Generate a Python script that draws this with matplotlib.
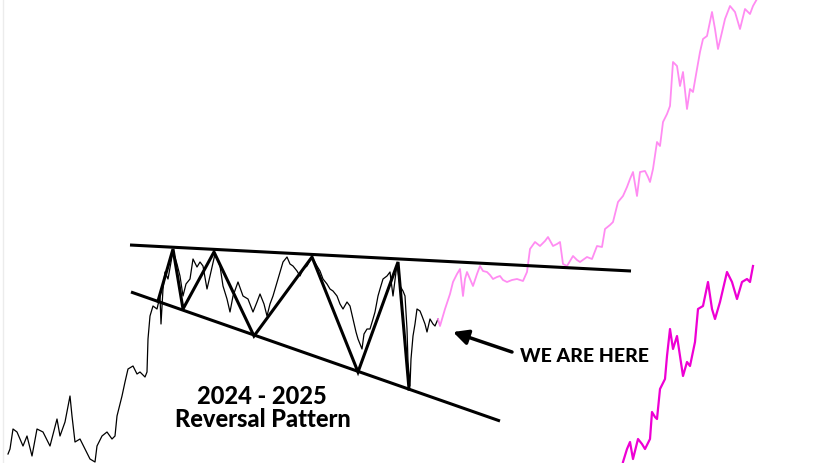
import matplotlib
matplotlib.use("Agg")
import matplotlib.pyplot as plt

# price path (x = time step, y = level)
black_x = [8, 10, 13, 17, 23, 27, 32, 37, 43, 50, 57, 60, 65, 70, 72, 75, 80, 85, 90, 95,
           97, 102, 107, 112, 115, 117, 122, 125, 128, 133, 137, 140, 145, 147, 148, 150, 153, 157, 160, 161,
           163, 165, 168, 173, 177, 180, 183, 186, 190, 193, 197, 200, 203, 207, 210, 215, 218, 220, 223, 227,
           230, 233, 238, 243, 248, 253, 257, 260, 264, 267, 270, 273, 278, 283, 287, 290, 293, 297, 300, 303,
           307, 312, 317, 320, 323, 327, 330, 333, 337, 340, 343, 347, 350, 353, 356, 358, 362, 364, 367, 370,
           373, 375, 378, 380, 383, 387, 390, 393, 397, 400, 403, 405, 407, 408, 410, 411, 413, 415, 417, 420,
           422, 425, 427, 430, 433, 435, 438]
black_y = [9, 14, 34, 31, 17, 27, 7, 34, 31, 17, 44, 27, 41, 67, 47, 21, 24, 14, 4, 1,
           17, 27, 31, 24, 27, 47, 67, 81, 94, 97, 89, 91, 86, 91, 124, 147, 157, 154, 167, 139,
           174, 191, 184, 212, 199, 187, 167, 179, 184, 204, 196, 201, 197, 174, 187, 209, 202, 197, 177, 164,
           151, 167, 181, 167, 164, 151, 161, 169, 159, 147, 159, 167, 184, 201, 206, 199, 197, 192, 187, 194,
           197, 206, 197, 192, 184, 179, 174, 172, 167, 159, 154, 161, 157, 144, 131, 124, 114, 129, 134, 134,
           144, 151, 167, 174, 184, 187, 191, 167, 199, 177, 172, 167, 134, 101, 77, 104, 127, 139, 154, 152,
           147, 139, 131, 144, 139, 137, 144]

pink_x = [438, 440, 445, 450, 453, 457, 460, 463, 465, 467, 470, 473, 477, 480, 483, 487, 490, 493, 497, 500,
          503, 507, 512, 517, 523, 527, 530, 535, 540, 545, 548, 553, 557, 560, 563, 567, 570, 573, 577, 580,
          587, 592, 597, 602, 605, 610, 613, 618, 623, 627, 630, 633, 637, 640, 645, 648, 650, 653, 657, 660,
          663, 667, 670, 673, 677, 680, 683, 687, 690, 693, 697, 700, 703, 707, 712, 715, 718, 722, 725, 730,
          735, 740, 745, 750, 753, 757]
pink_y = [144, 137, 154, 169, 181, 189, 194, 167, 184, 191, 184, 177, 189, 197, 192, 191, 188, 184, 186, 187,
          183, 181, 183, 184, 182, 191, 214, 221, 217, 222, 226, 217, 219, 221, 199, 197, 202, 207, 203, 201,
          206, 204, 217, 216, 234, 238, 241, 261, 267, 276, 284, 291, 267, 291, 292, 286, 281, 294, 321, 317,
          341, 349, 357, 401, 397, 377, 391, 354, 374, 371, 394, 411, 424, 427, 451, 434, 414, 431, 444, 457,
          451, 434, 454, 449, 457, 464]

magenta_x = [623, 627, 630, 633, 638, 642, 645, 650, 652, 655, 657, 660, 665, 667, 670, 673, 677, 680, 683, 687,
             690, 695, 698, 703, 708, 712, 715, 720, 727, 732, 737, 742, 747, 750, 753]
magenta_y = [1, 14, 21, 4, 24, 19, 14, 24, 51, 46, 44, 74, 84, 107, 134, 114, 127, 107, 87, 101,
             97, 121, 154, 157, 181, 154, 144, 161, 191, 181, 164, 181, 184, 181, 197]

# pattern lines
upper_x = [130, 631]
upper_y = [218, 192]
lower_x = [131, 500]
lower_y = [171, 42]
zig_x = [158, 173, 183, 214, 254, 312, 358, 398, 409]
zig_y = [162, 214, 154, 211, 127, 206, 91, 201, 74]

fig = plt.figure(figsize=(8.28, 4.64), dpi=100)
ax = fig.add_axes([0, 0, 1, 1])
ax.set_xlim(0, 828)
ax.set_ylim(0, 464)
ax.axis("off")

ax.axvline(3, color="#ececec", lw=1)

ax.plot(black_x, black_y, color="black", lw=0.9)
ax.plot(pink_x, pink_y, color="#ff8cf2", lw=1.3)
ax.plot(magenta_x, magenta_y, color="#ee00d4", lw=1.6)

ax.plot(upper_x, upper_y, color="black", lw=2.2, solid_capstyle="butt")
ax.plot(lower_x, lower_y, color="black", lw=2.2, solid_capstyle="butt")
ax.plot(zig_x, zig_y, color="black", lw=2.2, solid_joinstyle="miter")

ax.annotate("", xy=(453, 131), xytext=(512, 111),
            arrowprops=dict(arrowstyle="-|>,head_length=0.9,head_width=0.45",
                            color="black", lw=2.5, shrinkA=0, shrinkB=0))

ax.text(585, 107, "WE ARE HERE", fontsize=14, fontweight="black", family="Lato",
        ha="center", va="center")
ax.text(262, 67, "2024 - 2025", fontsize=17, fontweight="black", family="Lato",
        ha="center", va="center")
ax.text(263, 44, "Reversal Pattern", fontsize=17, fontweight="black", family="Lato",
        ha="center", va="center")

fig.savefig("out.png", dpi=100)
